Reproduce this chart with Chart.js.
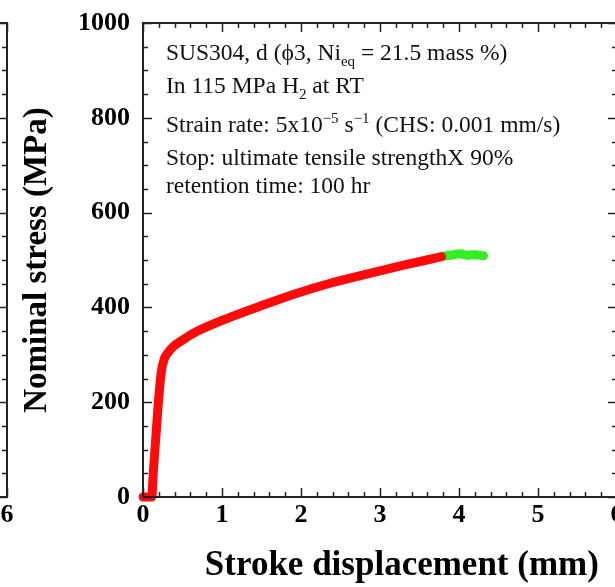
<!DOCTYPE html>
<html>
<head>
<meta charset="utf-8">
<script src="https://cdn.jsdelivr.net/npm/chart.js@4.4.1/dist/chart.umd.min.js"></script>
<style>
  html, body { margin: 0; padding: 0; width: 615px; height: 587px; overflow: hidden; background: #fff; }
  canvas { position: absolute; top: 0; }
  #main { left: 0; }
  #prev { left: -610px; }
  .note { position: absolute; left: 166px; font-family: "Liberation Serif", serif; font-size: 23.5px; color: #111; white-space: nowrap; line-height: 1; }
  .note sub, .note sup { font-size: 15px; }
</style>
</head>
<body>
<canvas id="prev" width="625" height="587"></canvas>
<canvas id="main" width="625" height="587"></canvas>
<div class="note" style="top:41px">SUS304, d (ϕ3, Ni<sub>eq</sub> = 21.5 mass %)</div>
<div class="note" style="top:74px">In 115 MPa H<sub>2</sub> at RT</div>
<div class="note" style="top:111px">Strain rate: 5x10<sup>−5</sup> s<sup>−1</sup> (CHS: 0.001 mm/s)</div>
<div class="note" style="top:146px">Stop: ultimate tensile strengthX 90%</div>
<div class="note" style="top:174px">retention time: 100 hr</div>
<script>
// tensile curve up to the stop point (red) and the hold segment (green)
const loadX = [0, 0.11, 0.13, 0.19, 0.23, 0.27, 0.31, 0.38, 0.5, 0.68, 1.1, 1.52, 1.95, 2.37, 2.87, 3.3, 3.78];
const loadY = [0, 0, 51, 190, 262, 292, 303, 317, 331, 349, 379, 405, 430, 451, 472, 489, 507];
const holdX = [3.78, 3.9, 4.01, 4.1, 4.2, 4.31];
const holdY = [508, 510, 513, 510, 511, 509];

const xTicks = [0, 1, 2, 3, 4, 5, 6];
const yTicks = [0, 200, 400, 600, 800, 1000];

const serif = '"Liberation Serif", "Times New Roman", serif';

function pts(xs, ys) {
    return xs.map((x, i) => ({ x: x, y: ys[i] }));
}

// frame + inward major/minor ticks on all four sides
const framePlugin = {
    id: 'frame',
    afterDraw(chart) {
        const ctx = chart.ctx;
        const a = chart.chartArea;
        const xs = chart.scales.x;
        const ys = chart.scales.y;
        ctx.save();
        ctx.strokeStyle = '#222';
        ctx.lineWidth = 1.5;
        ctx.beginPath();
        for (let v = 0; v <= 1000; v += 50) {
            const p = Math.round(ys.getPixelForValue(v)) + 0.5;
            const len = v % 200 === 0 ? 9 : 5;
            ctx.moveTo(a.left, p); ctx.lineTo(a.left + len, p);
            ctx.moveTo(a.right, p); ctx.lineTo(a.right - len, p);
        }
        for (let i = 0; i <= 30; i++) {
            const p = Math.round(xs.getPixelForValue(i * 0.2)) + 0.5;
            const len = i % 5 === 0 ? 9 : 5;
            ctx.moveTo(p, a.bottom); ctx.lineTo(p, a.bottom - len);
            ctx.moveTo(p, a.top); ctx.lineTo(p, a.top + len);
        }
        ctx.stroke();
        ctx.lineWidth = 2;
        ctx.strokeRect(a.left, a.top, a.right - a.left, a.bottom - a.top);
        ctx.restore();
    }
};

function makeChart(id, withData) {
    const datasets = withData ? [
        { data: pts(loadX, loadY), borderColor: '#ff0a0a', borderWidth: 9 },
        { data: pts(holdX, holdY), borderColor: '#33ee22', borderWidth: 9 }
    ] : [];
    datasets.forEach(d => {
        d.showLine = true;
        d.pointRadius = 0;
        d.clip = false;
        d.cubicInterpolationMode = 'monotone';
        d.borderCapStyle = 'round';
        d.borderJoinStyle = 'round';
    });

    return new Chart(document.getElementById(id), {
        type: 'scatter',
        data: { datasets },
        plugins: [framePlugin],
        options: {
            responsive: false,
            animation: false,
            devicePixelRatio: 1,
            layout: { padding: { top: 23, right: 8, left: 0, bottom: 0 } },
            plugins: { legend: { display: false }, tooltip: { enabled: false } },
            scales: {
                x: {
                    type: 'linear', min: 0, max: 6,
                    afterBuildTicks: s => { s.ticks = xTicks.map(v => ({ value: v })); },
                    afterFit: s => { s.height = 90; s.paddingLeft = 0; s.paddingRight = 0; },
                    grid: { display: false, drawTicks: false },
                    border: { display: false },
                    ticks: { padding: 3, color: '#000', maxRotation: 0, callback: v => String(v),
                             font: { family: serif, size: 26, weight: 'bold' } },
                    title: {
                        display: true, text: '     Stroke displacement (mm)', color: '#000',
                        padding: { top: 0, bottom: 0 },
                        font: { family: serif, size: 35, weight: 'bold' }
                    }
                },
                y: {
                    type: 'linear', min: 0, max: 1000,
                    afterBuildTicks: s => { s.ticks = yTicks.map(v => ({ value: v })); },
                    afterFit: s => { s.width = 143; s.paddingTop = 0; s.paddingBottom = 0; },
                    grid: { display: false, drawTicks: false },
                    border: { display: false },
                    ticks: { padding: 13, color: '#000', callback: v => String(v),
                             font: { family: serif, size: 26, weight: 'bold' } },
                    title: {
                        display: true, text: 'Nominal stress (MPa)', color: '#000',
                        padding: { top: 18, bottom: 0 },
                        font: { family: serif, size: 33, weight: 'bold' }
                    }
                }
            }
        }
    });
}

makeChart('prev', false);
makeChart('main', true);
</script>
</body>
</html>
